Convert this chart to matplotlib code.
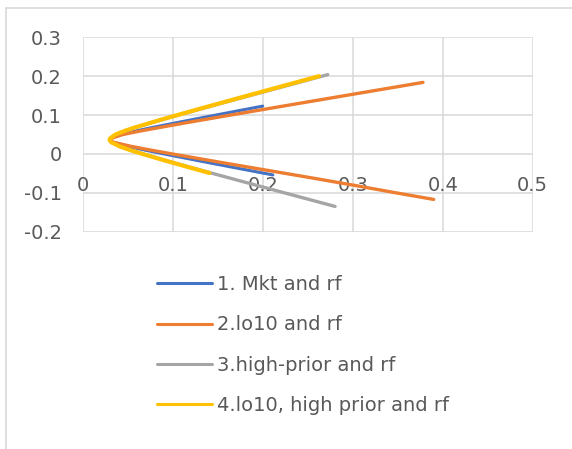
import matplotlib.pyplot as plt
from matplotlib.lines import Line2D

# frontier points: expected return (mu) vs std dev (sigma)
mkt_mu = [0.123, 0.11, 0.09, 0.07, 0.06, 0.05, 0.04, 0.036, 0.03, 0.02, 0.01, 0.0, -0.02, -0.04, -0.054]
mkt_sd = [0.200, 0.1705, 0.1255, 0.0816, 0.0608, 0.0423, 0.0312, 0.0302, 0.0336, 0.0493, 0.0689, 0.0902, 0.1344, 0.1795, 0.2113]

lo10_mu = [0.184, 0.16, 0.14, 0.12, 0.10, 0.08, 0.06, 0.05, 0.04, 0.036, 0.03, 0.02, 0.01, 0.0, -0.02,
           -0.04, -0.06, -0.08, -0.10, -0.117]
lo10_sd = [0.3781, 0.3168, 0.2658, 0.2149, 0.1643, 0.1143, 0.0662, 0.0448, 0.0313, 0.0302, 0.0345, 0.0529,
           0.0754, 0.0995, 0.1492, 0.1997, 0.2505, 0.3000, 0.3480, 0.3900]

high_mu = [0.204, 0.19, 0.17, 0.15, 0.13, 0.11, 0.09, 0.07, 0.06, 0.05, 0.04, 0.036, 0.03, 0.02, 0.01, 0.0,
           -0.02, -0.04, -0.06, -0.08, -0.10, -0.12, -0.135]
high_sd = [0.2723, 0.2498, 0.2177, 0.1856, 0.1537, 0.1221, 0.0910, 0.0613, 0.0479, 0.0367, 0.0306, 0.0300,
           0.0319, 0.0407, 0.0531, 0.0671, 0.0971, 0.1284, 0.1601, 0.1920, 0.2241, 0.2562, 0.2804]

all_mu = [0.200, 0.19, 0.17, 0.15, 0.13, 0.11, 0.09, 0.07, 0.06, 0.05, 0.04, 0.036, 0.03, 0.02, 0.01, 0.0,
          -0.02, -0.04, -0.049]
all_sd = [0.2625, 0.2466, 0.2149, 0.1833, 0.1518, 0.1206, 0.0899, 0.0607, 0.0475, 0.0365, 0.0304, 0.0298,
          0.0318, 0.0405, 0.0526, 0.0664, 0.0960, 0.1268, 0.1408]

labels = ['1. Mkt and rf', '2.lo10 and rf', '3.high-prior and rf', '4.lo10, high prior and rf']
colors = ['#4472C4', '#ED7D31', '#A5A5A5', '#FFC000']

x_ticks = [0, 0.1, 0.2, 0.3, 0.4, 0.5]
x_labels = ['0', '0.1', '0.2', '0.3', '0.4', '0.5']
y_ticks = [-0.2, -0.1, 0, 0.1, 0.2, 0.3]
y_labels = ['-0.2', '-0.1', '0', '0.1', '0.2', '0.3']

plt.rcParams['font.family'] = ['DejaVu Sans']
fig = plt.figure(figsize=(5.72, 4.49), dpi=100)
ax = fig.add_axes([82.7 / 572, 1 - 231.7 / 449, (532.7 - 82.7) / 572, (231.7 - 37.3) / 449])

series = [(mkt_sd, mkt_mu), (lo10_sd, lo10_mu), (high_sd, high_mu), (all_sd, all_mu)]
widths = [2.2, 2.4, 2.4, 3.0]
for (sd, mu), lab, c, w in zip(series, labels, colors, widths):
    ax.plot(sd, mu, color=c, lw=w, label=lab, solid_capstyle='round', solid_joinstyle='round')

ax.set_xlim(0, 0.5)
ax.set_ylim(-0.2, 0.3)
ax.set_xticks(x_ticks)
ax.set_xticklabels(x_labels)
ax.set_yticks(y_ticks)
ax.set_yticklabels(y_labels)
ax.set_axisbelow(True)
ax.grid(True, color='#d9d9d9', lw=1.1)
for s in ax.spines.values():
    s.set_visible(False)
ax.spines['bottom'].set_position(('data', 0))
ax.tick_params(axis='both', length=0, labelsize=14, labelcolor='#595959')
ax.tick_params(axis='x', pad=16)
ax.tick_params(axis='y', pad=15)

leg = fig.legend(loc='upper left', bbox_to_anchor=(157 / 572, 1 - 275 / 449), frameon=False,
                 fontsize=14, labelcolor='#595959', handlelength=2.85, handletextpad=0.25,
                 labelspacing=1.1, borderpad=0, borderaxespad=0)
for h in leg.get_lines():
    h.set_linewidth(2.2)

# chart area border (left and top edges visible)
fig.add_artist(Line2D([6 / 572, 6 / 572], [0, 1 - 8 / 449], color='#d9d9d9', lw=1.2))
fig.add_artist(Line2D([6 / 572, 1], [1 - 8 / 449, 1 - 8 / 449], color='#d9d9d9', lw=1.2))

fig.savefig('out.png', dpi=100)
